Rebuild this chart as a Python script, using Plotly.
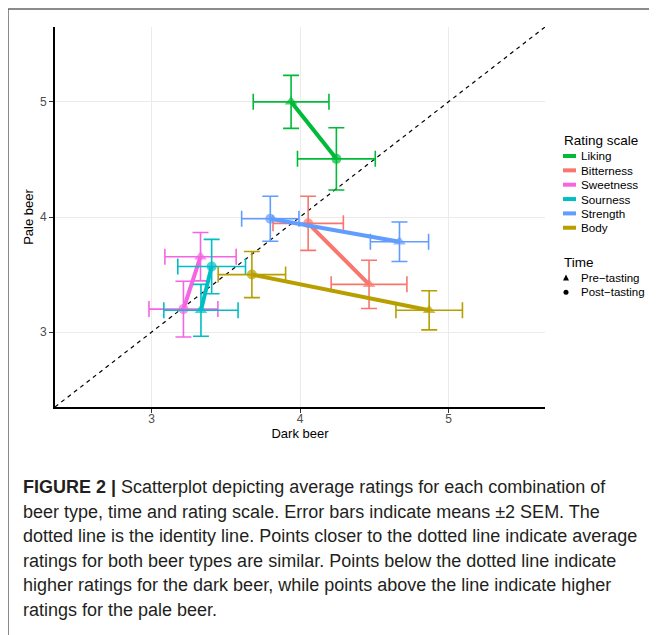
import plotly.graph_objects as go

# ---------------- data ----------------
scales = ["Liking", "Bitterness", "Sweetness", "Sourness", "Strength", "Body"]
colors = ["#00BA38", "#F8766D", "#F564E3", "#00BFC4", "#619CFF", "#B79F00"]

# Pre-tasting means (dark beer = x, pale beer = y) and 2*SEM half widths
pre_dark = [3.94, 4.465, 3.33, 3.333, 4.67, 4.87]
pre_pale = [5.00, 3.415, 3.655, 3.19, 3.785, 3.19]
pre_dark_err = [0.255, 0.255, 0.24, 0.25, 0.196, 0.224]
pre_pale_err = [0.23, 0.21, 0.21, 0.225, 0.172, 0.17]

# Post-tasting
post_dark = [4.245, 4.055, 3.215, 3.405, 3.80, 3.676]
post_pale = [4.505, 3.945, 3.20, 3.57, 3.985, 3.50]
post_dark_err = [0.262, 0.237, 0.232, 0.228, 0.193, 0.227]
post_pale_err = [0.27, 0.235, 0.242, 0.236, 0.195, 0.20]

times = ["Pre\u2212tasting", "Post\u2212tasting"]
axis_range = [2.35, 5.65]
ticks = [3, 4, 5]

caption_lines = [
    "<b>FIGURE 2 |</b> Scatterplot depicting average ratings for each combination of",
    "beer type, time and rating scale. Error bars indicate means \u00b12 SEM. The",
    "dotted line is the identity line. Points closer to the dotted line indicate average",
    "ratings for both beer types are similar. Points below the dotted line indicate",
    "higher ratings for the dark beer, while points above the line indicate higher",
    "ratings for the pale beer.",
]

# ---------------- layout geometry (pixels) ----------------
OFF = 8  # page body margin
W, H = 657 - OFF, 635 - OFF
ML, MR, MT, MB = 55 - OFF, 112, 27 - OFF, 228
PW = W - ML - MR
PH = H - MT - MB


def px(xpix):  # reference-screen x pixel -> paper
    return (xpix - OFF - ML) / PW


def py(ypix):  # reference-screen y pixel -> paper
    return (H - MB - (ypix - OFF)) / PH


FONT = "Liberation Sans, Arial"

fig = go.Figure()

# identity line
fig.add_trace(go.Scatter(
    x=axis_range, y=axis_range, mode="lines",
    line=dict(color="black", width=1.2, dash="4px,4px"),
    hoverinfo="skip", showlegend=False,
))

for i, s in enumerate(scales):
    fig.add_trace(go.Scatter(
        x=[pre_dark[i], post_dark[i]],
        y=[pre_pale[i], post_pale[i]],
        mode="lines+markers",
        name=s,
        line=dict(color=colors[i], width=4),
        marker=dict(color=colors[i], size=[11, 10],
                    symbol=["triangle-up", "circle"], line=dict(width=0)),
        error_x=dict(type="data", array=[pre_dark_err[i], post_dark_err[i]],
                     color=colors[i], thickness=1.6, width=8),
        error_y=dict(type="data", array=[pre_pale_err[i], post_pale_err[i]],
                     color=colors[i], thickness=1.6, width=8),
        showlegend=False,
        text=times,
    ))

axis_common = dict(
    range=axis_range, tickvals=ticks, showgrid=True, gridcolor="#EBEBEB",
    gridwidth=1, zeroline=False, showline=True, linecolor="black",
    linewidth=1.8, ticks="outside", ticklen=4, tickcolor="#333333",
    tickwidth=1, tickfont=dict(family=FONT, size=12, color="#4D4D4D"),
)

fig.update_xaxes(**axis_common, ticklabelstandoff=-4,
                 title=dict(text="Dark beer", font=dict(family=FONT, size=13, color="black"),
                            standoff=4))
fig.update_yaxes(**axis_common,
                 title=dict(text="Pale beer", font=dict(family=FONT, size=13, color="black"),
                            standoff=3))

shapes = []
annotations = []

# ---- manual legend: Rating scale ----
annotations.append(dict(x=px(562), y=py(140.7), xref="paper", yref="paper",
                        text="Rating scale", showarrow=False, xanchor="left",
                        yanchor="middle", font=dict(family=FONT, size=13.5, color="black")))
for i, s in enumerate(scales):
    yy = 156 + i * 14.35
    shapes.append(dict(type="line", xref="paper", yref="paper",
                       x0=px(563), x1=px(576), y0=py(yy), y1=py(yy),
                       line=dict(color=colors[i], width=4)))
    annotations.append(dict(x=px(578.5), y=py(yy), xref="paper", yref="paper",
                            text=s, showarrow=False, xanchor="left", yanchor="middle",
                            font=dict(family=FONT, size=11.7, color="black")))

# ---- manual legend: Time ----
annotations.append(dict(x=px(562), y=py(262), xref="paper", yref="paper",
                        text="Time", showarrow=False, xanchor="left",
                        yanchor="middle", font=dict(family=FONT, size=13.5, color="black")))
ty0, ty1 = 277.5, 292.3
shapes.append(dict(type="path", xref="paper", yref="paper",
                   path=f"M {px(563)} {py(ty0 + 3)} L {px(569)} {py(ty0 + 3)} L {px(566)} {py(ty0 - 3)} Z",
                   fillcolor="black", line=dict(width=0)))
shapes.append(dict(type="circle", xref="paper", yref="paper",
                   x0=px(563.5), x1=px(568.5), y0=py(ty1 + 2.5), y1=py(ty1 - 2.5),
                   fillcolor="black", line=dict(width=0)))
for t, yy in zip(times, [ty0, ty1]):
    annotations.append(dict(x=px(578.5), y=py(yy), xref="paper", yref="paper",
                            text=t, showarrow=False, xanchor="left", yanchor="middle",
                            font=dict(family=FONT, size=11.5, color="black")))

# ---- outer frame ----
shapes.append(dict(type="path", xref="paper", yref="paper",
                   path=f"M {px(8)} {py(660)} L {px(8)} {py(9)} L {px(700)} {py(9)}",
                   line=dict(color="#666666", width=1.5)))

# ---- caption ----
for k, line in enumerate(caption_lines):
    annotations.append(dict(x=px(21), y=py(487 + k * 24.6), xref="paper", yref="paper",
                            text=line, showarrow=False, xanchor="left", yanchor="middle",
                            font=dict(family=FONT, size=18, color="#231F20")))

fig.update_layout(
    width=W, height=H,
    margin=dict(l=ML, r=MR, t=MT, b=MB),
    paper_bgcolor="white", plot_bgcolor="white",
    showlegend=False,
    shapes=shapes, annotations=annotations,
)

fig.write_html("out.html")
